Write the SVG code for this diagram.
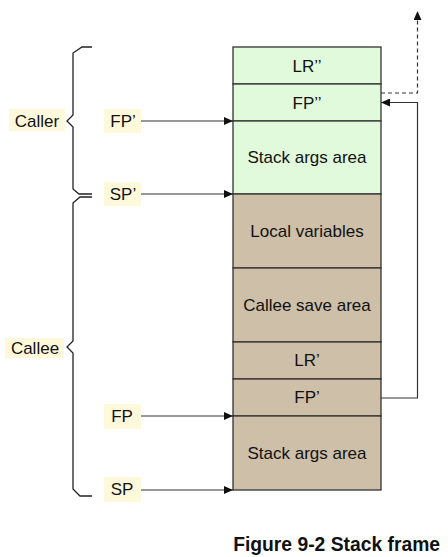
<svg xmlns="http://www.w3.org/2000/svg" width="448" height="557" viewBox="0 0 448 557">
<style>
.cell{stroke:#333;stroke-width:1.3}
.green{fill:#E2FADC}
.tan{fill:#CEBFA8}
.t{font-family:"Liberation Sans",Arial,sans-serif;font-size:17px;fill:#111;text-anchor:middle}
.lbl{fill:#FFF9DC}
.conn{fill:none;stroke:#333;stroke-width:1.2}
.brace{fill:none;stroke:#222;stroke-width:1.3}
.cap{font-family:"Liberation Sans",Arial,sans-serif;font-size:19.3px;font-weight:bold;fill:#111;text-anchor:end}
</style>
<defs>
<marker id="ah" markerUnits="userSpaceOnUse" markerWidth="10" markerHeight="8" refX="9" refY="4" orient="auto">
<path d="M0,0 L9,4 L0,8 Z" fill="#111"/>
</marker>
</defs>
<rect width="448" height="557" fill="#fff"/>

<g id="cell-lr2"><rect class="cell green" x="233" y="47" width="148" height="37"/><text class="t" x="307" y="72">LR’’</text></g>
<g id="cell-fp2"><rect class="cell green" x="233" y="84" width="148" height="37"/><text class="t" x="307" y="109">FP’’</text></g>
<g id="cell-args1"><rect class="cell green" x="233" y="121" width="148" height="73"/><text class="t" x="307" y="163">Stack args area</text></g>
<g id="cell-locals"><rect class="cell tan" x="233" y="194" width="148" height="74"/><text class="t" x="307" y="237">Local variables</text></g>
<g id="cell-save"><rect class="cell tan" x="233" y="268" width="148" height="74"/><text class="t" x="307" y="311">Callee save area</text></g>
<g id="cell-lr1"><rect class="cell tan" x="233" y="342" width="148" height="37"/><text class="t" x="307" y="366">LR’</text></g>
<g id="cell-fp1"><rect class="cell tan" x="233" y="379" width="148" height="37"/><text class="t" x="307" y="403">FP’</text></g>
<g id="cell-args2"><rect class="cell tan" x="233" y="416" width="148" height="74"/><text class="t" x="307" y="459">Stack args area</text></g>

<g id="label-caller"><rect class="lbl" x="9" y="109" width="56" height="22"/><text class="t" x="37" y="127">Caller</text></g>
<g id="label-callee"><rect class="lbl" x="5" y="338" width="59" height="20"/><text class="t" x="35" y="354">Callee</text></g>
<g id="label-fpp"><rect class="lbl" x="104" y="109" width="37" height="24"/><text class="t" x="123" y="127">FP’</text></g>
<g id="label-spp"><rect class="lbl" x="104" y="182" width="37" height="24"/><text class="t" x="123" y="200">SP’</text></g>
<g id="label-fp"><rect class="lbl" x="104" y="404" width="37" height="25"/><text class="t" x="122" y="422">FP</text></g>
<g id="label-sp"><rect class="lbl" x="104" y="477" width="37" height="25"/><text class="t" x="122" y="495">SP</text></g>

<g id="braces">
<path class="brace" d="M92,47 L82,47 L73,53 L73,115 L67,121 L73,127 L73,189 L79,194 L92,194"/>
<path class="brace" d="M92,197 L80,197 L73,203 L73,341 L67,347 L73,353 L73,489 L80,496 L92,496"/>
</g>

<g id="connectors">
<line class="conn" x1="141" y1="121" x2="233" y2="121" marker-end="url(#ah)"/>
<line class="conn" x1="141" y1="194" x2="233" y2="194" marker-end="url(#ah)"/>
<line class="conn" x1="141" y1="416" x2="233" y2="416" marker-end="url(#ah)"/>
<line class="conn" x1="141" y1="490" x2="233" y2="490" marker-end="url(#ah)"/>
<polyline class="conn" points="381,398 417.5,398 417.5,102.5 381,102.5" marker-end="url(#ah)"/>
<polyline class="conn" points="381,93 417.5,93 417.5,11" stroke-dasharray="4,3" marker-end="url(#ah)"/>
</g>

<text class="cap" x="440" y="551">Figure 9-2 Stack frame</text>
</svg>
